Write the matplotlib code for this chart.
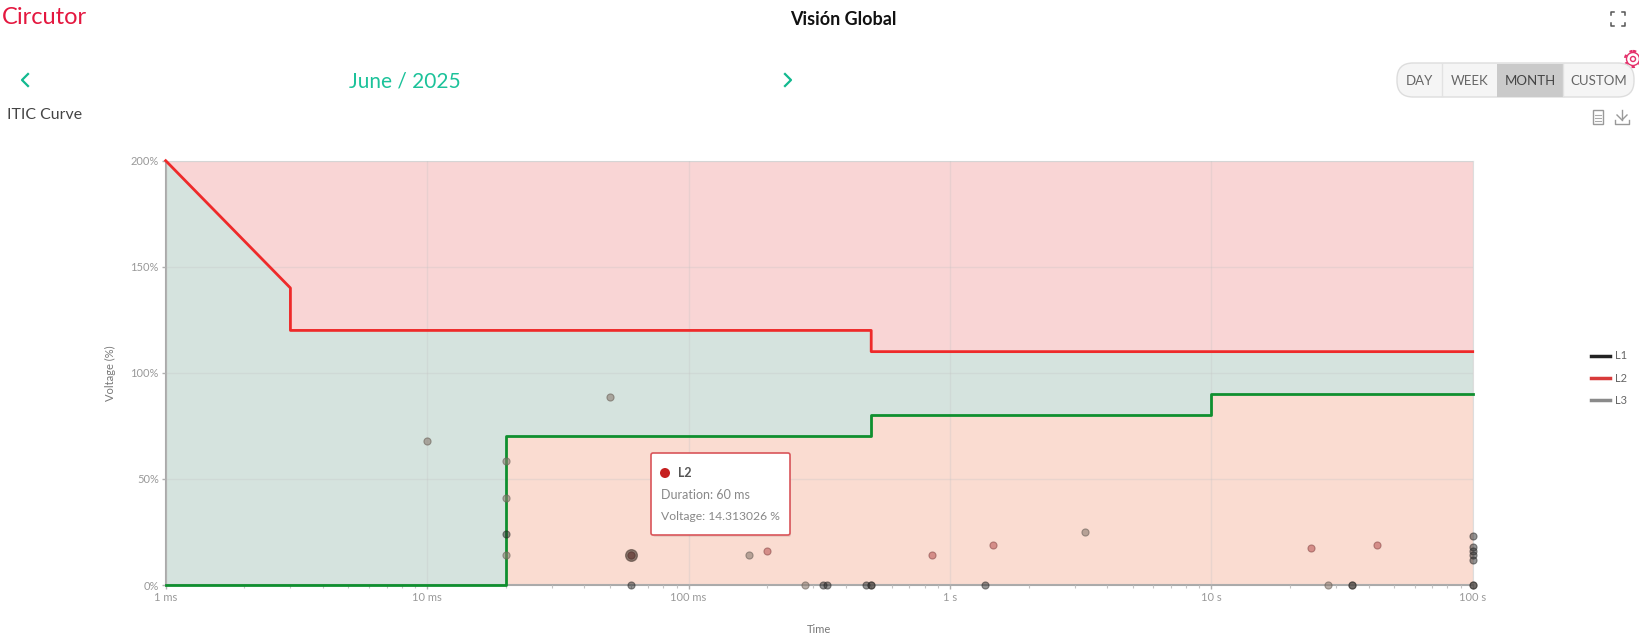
import matplotlib
matplotlib.use('Agg')
import matplotlib.pyplot as plt
from matplotlib.lines import Line2D
from matplotlib.patches import Circle, FancyBboxPatch, Rectangle

plt.rcParams['font.family'] = ['Lato', 'DejaVu Sans']

# limit curves, duration in ms and voltage in %
upper_x = [1, 3, 3, 500, 500, 100000]
upper_y = [200, 140, 120, 120, 110, 110]
lower_x = [1, 20, 20, 500, 500, 10000, 10000, 100000]
lower_y = [0, 0, 70, 70, 80, 80, 90, 90]

# events per phase
l1_x = [20, 60, 328, 340, 479, 497, 1368, 34400, 100000, 100000, 100000, 100000, 100000, 100000]
l1_y = [24, 0, 0, 0, 0, 0, 0, 0, 23, 18, 16, 14, 11.8, 0]
l2_x = [60, 200, 855, 1459, 24000, 42900]
l2_y = [14.3, 16, 14.3, 18.9, 17.5, 18.7]
l3_x = [10, 50, 20, 20, 20, 60, 170, 280, 497, 3281, 28000, 34400, 100000]
l3_y = [68, 88.6, 58.5, 41.2, 14, 14.3, 14, 0, 0, 25, 0, 0, 0]
big_x = [60]
big_y = [14.3]

x_ticks = [1, 10, 100, 1000, 10000, 100000]
x_labels = ['1 ms', '10 ms', '100 ms', '1 s', '10 s', '100 s']
y_ticks = [0, 50, 100, 150, 200]
y_labels = ['0%', '50%', '100%', '150%', '200%']

W, H = 1639, 644
fig = plt.figure(figsize=(W / 100, H / 100), dpi=100, facecolor='white')
ax = fig.add_axes([165.7 / W, 1 - 585 / H, 1307 / W, 424.3 / H])

ax.set_xscale('log')
ax.set_xlim(1, 100000)
ax.set_ylim(0, 200)
ax.set_facecolor('#d5e3de')
ax.fill_between(upper_x, upper_y, 200, color='#f9d5d5', lw=0, zorder=1)
ax.fill_between(lower_x, lower_y, 0, color='#fadcd1', lw=0, zorder=1)
ax.grid(True, which='major', color='#c4c4c4', alpha=0.3, lw=1, zorder=2)
ax.set_axisbelow(False)

ax.plot(upper_x, upper_y, color='#ee2a2a', lw=2, zorder=3, clip_on=False)
ax.plot(lower_x, lower_y, color='#0f8f2f', lw=2, zorder=3, clip_on=False)

ax.scatter(l3_x, l3_y, s=26, color='#8a7a70', alpha=0.6, edgecolor='#6a6058', lw=0.8, zorder=4, clip_on=False)
ax.scatter(l2_x, l2_y, s=26, color='#b04040', alpha=0.5, edgecolor='#7a3a3a', lw=0.8, zorder=4, clip_on=False)
ax.scatter(l1_x, l1_y, s=26, color='#2a2a2a', alpha=0.5, edgecolor='#222222', lw=0.8, zorder=4, clip_on=False)
ax.scatter(big_x, big_y, s=70, color='#4a3a32', alpha=0.6, edgecolor='#4a3a32', lw=1, zorder=4)

ax.set_xticks(x_ticks)
ax.set_xticklabels(x_labels)
ax.set_yticks(y_ticks)
ax.set_yticklabels(y_labels)
ax.tick_params(axis='x', which='major', labelsize=8, colors='#b0b0b0', labelcolor='#999999', length=3, width=1, pad=2)
ax.tick_params(axis='y', which='major', labelsize=8, colors='#b0b0b0', labelcolor='#999999', length=3, width=1, pad=2)
ax.tick_params(axis='x', which='minor', colors='#c4c4c4', length=2, width=0.8, labelbottom=False)
ax.set_xlabel('Time', fontsize=8, color='#777777', labelpad=15)
ax.set_ylabel('Voltage (%)', fontsize=8, color='#777777', labelpad=10)

for side in ['top', 'right']:
    ax.spines[side].set_color('#dddddd')
for side in ['left', 'bottom']:
    ax.spines[side].set_color('#aaaaaa')
    ax.spines[side].set_linewidth(1.5)

handles = [Line2D([], [], color='#222222', lw=2.5),
           Line2D([], [], color='#d83a3a', lw=2.5),
           Line2D([], [], color='#8a8a8a', lw=2.5)]
fig.legend(handles, ['L1', 'L2', 'L3'], loc='center left', bbox_to_anchor=(1581 / W, 1 - 378 / H),
           frameon=False, fontsize=8, labelcolor='#666666', handlelength=1.7, handletextpad=0.5, labelspacing=1.0)

# page around the chart, drawn in pixel coordinates
ui = fig.add_axes([0, 0, 1, 1], zorder=5)
ui.set_xlim(0, W)
ui.set_ylim(H, 0)
ui.axis('off')

ui.text(2, 17, 'Circutor', fontsize=17, color='#e4173f', va='center', ha='left')
ui.text(843, 19, 'Visión Global', fontsize=13, fontweight='bold', color='#111111', va='center', ha='center')
ui.text(405, 81, 'June / 2025', fontsize=15, color='#1cc29a', va='center', ha='center')
ui.text(7, 115, 'ITIC Curve', fontsize=11.4, color='#444444', va='center', ha='left')

# prev / next arrows
ui.plot([28, 22, 28], [74, 80, 86], color='#12b98f', lw=1.6)
ui.plot([785, 791, 785], [74, 80, 86], color='#12b98f', lw=1.6)

# fullscreen icon
for dx, dy in [(-1, -1), (1, -1), (-1, 1), (1, 1)]:
    cx, cy = 1618 + dx * 7, 19 + dy * 7
    ui.plot([cx - dx * 3, cx, cx], [cy, cy, cy - dy * 3], color='#555555', lw=1.1)

# gear
ui.add_patch(Circle((1633, 59), 2.5, fill=False, ec='#e4306a', lw=1))
ui.add_patch(Circle((1633, 59), 6.5, fill=False, ec='#e4306a', lw=1))
ui.add_patch(Circle((1633, 59), 8, fill=False, ec='#e4306a', lw=1.6, ls=(0, (1.5, 2))))

# range buttons
ui.add_patch(FancyBboxPatch((1397, 63), 237, 34, boxstyle='round,pad=0,rounding_size=16', fc='#f5f5f5', ec='#dddddd', lw=1))
ui.add_patch(Rectangle((1497, 63.5), 66, 33, fc='#cacaca', ec='none'))
ui.plot([1442, 1442], [64, 96], color='#e2e2e2', lw=1)
ui.plot([1563, 1563], [64, 96], color='#e2e2e2', lw=1)
for label, cx, col in [('DAY', 1419, '#666666'), ('WEEK', 1470, '#666666'), ('MONTH', 1530, '#444444'), ('CUSTOM', 1599, '#666666')]:
    ui.text(cx, 81, label, fontsize=9.5, color=col, va='center', ha='center')

# document and download icons
ui.add_patch(Rectangle((1593, 110), 10, 14, fill=False, ec='#999999', lw=1))
for y in [115, 118, 121]:
    ui.plot([1595, 1601], [y, y], color='#aaaaaa', lw=0.8)
ui.plot([1622, 1622], [110, 120], color='#999999', lw=1)
ui.plot([1617, 1622, 1627], [115, 120, 115], color='#999999', lw=1)
ui.plot([1615, 1615, 1629, 1629], [120, 124, 124, 120], color='#999999', lw=1)

# tooltip
ui.add_patch(FancyBboxPatch((653, 456), 138, 81, boxstyle='round,pad=0,rounding_size=2', fc='#000000', ec='none', alpha=0.07))
ui.add_patch(FancyBboxPatch((651, 453), 139, 82, boxstyle='round,pad=0,rounding_size=2', fc='white', ec='#d9555a', lw=1.2))
ui.add_patch(Circle((665, 473), 5, fc='#c62020', ec='none'))
ui.text(678, 473, 'L2', fontsize=9, fontweight='bold', color='#555555', va='center', ha='left')
ui.text(661, 495, 'Duration: 60 ms', fontsize=9, color='#888888', va='center', ha='left')
ui.text(661, 516, 'Voltage: 14.313026 %', fontsize=8.7, color='#888888', va='center', ha='left')

fig.savefig('out.png', dpi=100)
